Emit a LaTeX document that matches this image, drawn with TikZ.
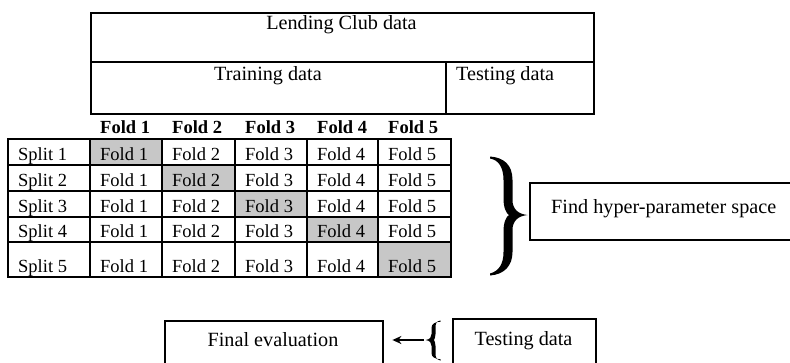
\documentclass[tikz,border=0pt]{standalone}
\usepackage{fontspec}
\setmainfont{Liberation Serif}
\usetikzlibrary{arrows.meta}
\begin{document}
\begin{tikzpicture}[x=1pt,y=-1pt,
  every node/.style={font=\fontsize{18.5}{22}\selectfont, inner sep=0pt},
  big/.style={font=\fontsize{20.2}{24}\selectfont},
  txt/.style={anchor=base west},
  ctxt/.style={anchor=base},
  hdr/.style={anchor=base west, font=\fontsize{18.5}{22}\selectfont\bfseries},
  shade/.style={fill=black!22},
  bigbox/.style={draw=black, line width=2.2pt, anchor=north west}
]
\useasboundingbox (0,0) rectangle (790,362);
\clip (0,0) rectangle (790,362);
\fill[white] (0,0) rectangle (790,362);

% ---- top box ----
\node[bigbox, line width=1.9pt, minimum width=503pt, minimum height=101pt] (lc) at (90,12) {};
\draw[line width=1.9pt] (90,62) coordinate (divl) -- (593,62) coordinate (divr);
\draw[line width=1.9pt] (446,62) coordinate (vtop) -- (446,113) coordinate (vbot);
\node[ctxt, big] (lctxt) at (341.5,29) {Lending Club data};
\node[ctxt, big] (trtxt) at (268,80) {Training data};
\node[txt, big] (tetxt) at (456,80) {Testing data};

% ---- table ----
\def\cx{{8,90,162,235,307,378,451}}
\def\ry{{139,165,191,217,242,277}}
% shaded cells
\foreach \i in {1,...,5}{
  \pgfmathsetmacro{\xa}{\cx[\i]}
  \pgfmathsetmacro{\xb}{\cx[\i+1]}
  \pgfmathsetmacro{\ya}{\ry[\i-1]}
  \pgfmathsetmacro{\yb}{\ry[\i]}
  \fill[shade] (\xa,\ya) rectangle (\xb,\yb);
}
% grid lines
\foreach \i in {0,...,6}{
  \pgfmathsetmacro{\xx}{\cx[\i]}
  \draw[line width=1.3pt] (\xx,139) -- (\xx,277);
}
\foreach \j in {0,...,5}{
  \pgfmathsetmacro{\yy}{\ry[\j]}
  \draw[line width=1.3pt] (8,\yy) -- (451,\yy);
}
\draw[line width=1.8pt] (8,139) rectangle (451,277);
% header
\foreach \i in {1,...,5}{
  \pgfmathsetmacro{\xa}{\cx[\i]+10}
  \node[hdr] (h\i) at (\xa,133) {Fold \i};
}
% rows
\foreach \j in {1,...,5}{
  \pgfmathsetmacro{\yb}{\ry[\j]-5}
  \node[txt] (s\j) at (18,\yb) {Split \j};
  \foreach \i in {1,...,5}{
    \pgfmathsetmacro{\xa}{\cx[\i]+10}
    \node[txt] (c\j\i) at (\xa,\yb) {Fold \i};
  }
}

% ---- right brace ----
\fill (490,156.5) .. controls (504,157.5) and (512.5,165) .. (512.5,180) -- (512.5,200)
  .. controls (512.5,209) and (518,214) .. (527.5,215)
  .. controls (518,216) and (512.5,221) .. (512.5,230) -- (512.5,252)
  .. controls (512.5,266) and (504,274.5) .. (490,275.5)
  -- (490,273.5) .. controls (499,271) and (503.5,264) .. (503.5,252) -- (503.5,232)
  .. controls (503.5,222) and (506,217) .. (509,215)
  .. controls (506,213) and (503.5,208) .. (503.5,198) -- (503.5,180)
  .. controls (503.5,168) and (499,160) .. (490,158.5) -- cycle;
\coordinate (rbtip) at (527,215);

% ---- find box ----
\node[bigbox, minimum width=280pt, minimum height=57pt] (find) at (529,182) {};
\node[txt, big] (findtxt) at (551,213) {Find hyper-parameter space};

% ---- bottom ----
\node[bigbox, line width=2.4pt, minimum width=218pt, minimum height=60pt] (fe) at (164,320) {};
\node[ctxt, big] (fetxt) at (273,346) {Final evaluation};
\node[bigbox, line width=2.4pt, minimum width=143pt, minimum height=60pt] (td) at (452,318) {};
\node[ctxt, big] (tdtxt) at (523.5,345) {Testing data};

% left brace
\fill (440.5,320.5) .. controls (436,321) and (435.5,324) .. (435.5,328) -- (435.5,334)
  .. controls (435.5,337) and (434.5,339) .. (434,340)
  .. controls (434.5,341) and (435.5,343) .. (435.5,346) -- (435.5,353)
  .. controls (435.5,357) and (436,359.5) .. (440.5,360.5)
  -- (440.5,359.3) .. controls (435,359) and (431.5,357) .. (431.5,353) -- (431.5,346)
  .. controls (431.5,343) and (430,340.5) .. (425.5,340)
  .. controls (430,339.5) and (431.5,337) .. (431.5,334) -- (431.5,328)
  .. controls (431.5,324) and (435,321.7) .. (440.5,321.7) -- cycle;
\coordinate (lbtip) at (424,340);
\draw[line width=1.8pt, -{Stealth[length=9pt,width=8pt]}, shorten >=8pt] (lbtip) -- (fe.east |- lbtip);
\end{tikzpicture}
\end{document}
